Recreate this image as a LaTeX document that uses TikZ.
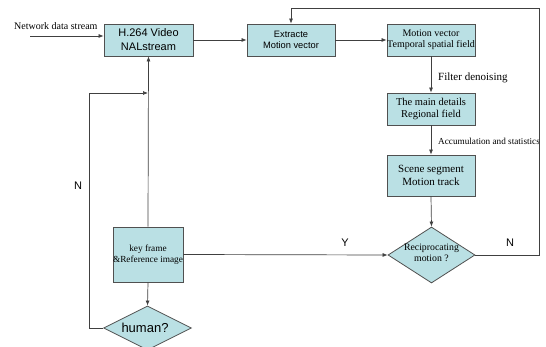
\documentclass[tikz,border=0pt]{standalone}
\usepackage{fontspec}
\setmainfont{Liberation Serif}
\setsansfont{Liberation Sans}
\usetikzlibrary{shapes.geometric,arrows.meta}
\definecolor{boxfill}{RGB}{186,224,228}
\definecolor{edgegray}{RGB}{80,80,80}
\begin{document}
\begin{tikzpicture}[x=1pt,y=-1pt,
  box/.style={draw=edgegray, fill=boxfill, line width=0.8pt, inner sep=0pt, align=center},
  dia/.style={diamond, draw=edgegray, fill=boxfill, line width=0.8pt, inner sep=0pt},
  serifs/.style={font=\fontsize{10}{11.5}\selectfont, align=center},
  sans/.style={font=\sffamily\fontsize{11}{14}\selectfont, align=center},
  conn/.style={draw=black!75, line width=0.7pt},
  arr/.style={conn, -{Latex[length=5pt,width=4pt]}},
  lbl/.style={inner sep=0pt, anchor=west}
]
\useasboundingbox (0,0) rectangle (546,347);
\clip (0,0) rectangle (546,347);

% boxes
\node[box, minimum width=89pt, minimum height=32pt, sans] (h264) at (148.5,40) {H.264 Video\\NALstream};
\node[box, minimum width=88pt, minimum height=32pt, font=\sffamily\fontsize{9.3}{11.5}\selectfont] (ext) at (291,40) {Extracte\\Motion vector};
\node[box, minimum width=88pt, minimum height=32pt, serifs] (mv) at (431,40) {Motion vector\\Temporal spatial field};
\node[box, minimum width=88pt, minimum height=32pt, font=\fontsize{10.5}{12.5}\selectfont] (main) at (431,109) {The main details\\Regional field};
\node[box, minimum width=88pt, minimum height=41pt, font=\fontsize{11}{13.5}\selectfont] (scene) at (431,175.5) {Scene segment\\Motion track};
\node[dia, minimum width=87pt, minimum height=56pt] (recip) at (431.5,255) {};
\node[serifs, font=\fontsize{9.8}{10.5}\selectfont] (reciptxt) at (431.5,253) {Reciprocating\\motion ?};
\node[box, minimum width=64pt, minimum height=55pt, font=\fontsize{9.3}{11}\selectfont] (keyf) at (148,254.5) {key frame\\\&Reference image};
\node[dia, minimum width=88pt, minimum height=44pt] (human) at (147.5,328) {};
\node[font=\sffamily\fontsize{13}{15}\selectfont, inner sep=0pt] (humantxt) at (145,328) {human?};

% labels
\node[lbl, font=\fontsize{10}{11}\selectfont] (netlbl) at (14,26) {Network data stream};
\node[lbl, font=\fontsize{11}{12}\selectfont] (filt) at (438,78) {Filter denoising};
\node[lbl, font=\fontsize{9.2}{11}\selectfont] (accu) at (438,141) {Accumulation and statistics};
\node[sans] (ylbl) at (345,243) {Y};
\node[sans] (nlbl1) at (510,243) {N};
\node[sans] (nlbl2) at (78,186) {N};

% coordinates
\coordinate (netstart) at (30,36);
\coordinate (topr) at (539,8);
\coordinate (nl) at (89,93);

% connectors
\draw[arr] (netstart) -- (h264.west |- netstart);
\draw[arr] (h264.east) -- (ext.west);
\draw[arr] (ext.east) -- (mv.west);
\draw[arr] (mv.south) -- (main.north);
\draw[arr] (main.south) -- (scene.north);
\draw[arr] (scene.south) -- (recip.north);
\draw[arr] (keyf.east) -- (recip.west);
\draw[arr] (recip.east) -- (topr |- recip.east) -- (topr) -- (ext.north |- topr) -- (ext.north);
\draw[arr] (keyf.north) -- (h264.south);
\draw[arr] (keyf.south) -- (human.north);
\draw[arr] (human.west) -- (nl |- human.west) -- (nl) -- (keyf.north |- nl);
\end{tikzpicture}
\end{document}
